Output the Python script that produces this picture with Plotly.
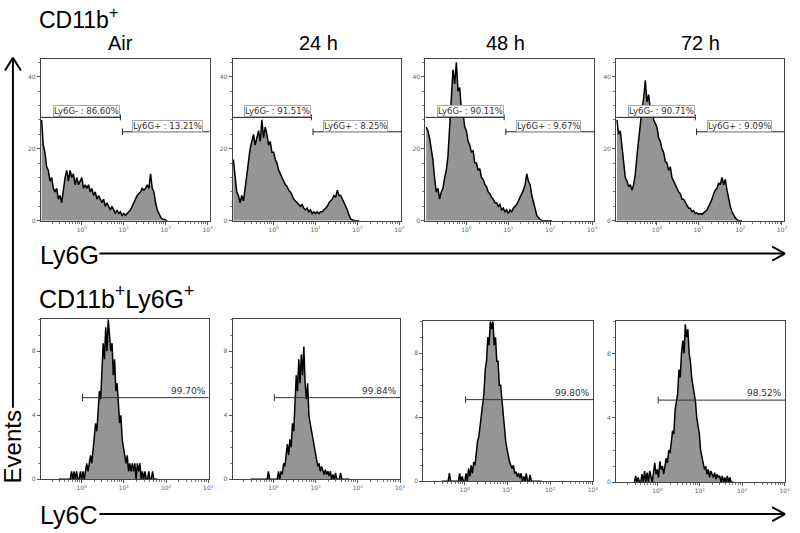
import plotly.graph_objects as go

# ---------------- data ----------------
CONDITIONS = ["Air", "24 h", "48 h", "72 h"]

# CD11b+ cells, Ly6G histograms: event counts sampled every 0.04 decade starting at 10^-0.96
TOP_LOG_START = -0.96
TOP_LOG_STEP = 0.04
LY6G_AIR = [28, 21, 19, 15, 14, 11, 12, 9, 8, 9,
            6, 7, 5, 9, 12, 14, 11, 14, 12, 13,
            10, 12, 10, 11, 12, 9, 10, 9, 10, 8,
            9, 7, 8, 6, 7, 6, 5, 6, 4, 5,
            4, 3, 4, 3, 2, 3, 2, 2.5, 1.5, 2,
            1.5, 2, 2.5, 3, 4, 5, 6, 7, 7.5, 8,
            9, 8.5, 9, 10, 9, 13, 9, 8, 5, 3,
            2, 1, 0.5, 0.3, 0, 0]
LY6G_24H = [17, 12, 8, 7, 5, 7, 5.5, 9, 13, 16,
            20, 22, 24, 21, 23, 25, 22, 28, 23, 26,
            24, 21, 22, 19, 19, 17, 16, 14, 13, 12,
            11, 10, 9.5, 8.5, 8, 7, 6, 5.5, 5, 4.5,
            4, 4.5, 3.5, 3, 3.5, 2.5, 3, 2, 2.5, 2,
            2.5, 2, 2.5, 2.5, 3, 3.5, 4, 5, 5.5, 6,
            7, 6.5, 8.5, 7, 7, 6, 5, 4, 3, 1.5,
            0.5, 0.2, 0, 0, 0, 0]
LY6G_48H = [26, 25, 23, 20, 17, 12, 8, 9, 6, 8,
            9, 12, 14, 18, 26, 33, 42, 38, 44, 36,
            37, 31, 30, 26, 25, 22, 21, 19, 19.5, 16,
            16, 14, 14.5, 12, 11.5, 10, 9.5, 8, 7.5, 6.5,
            6, 5, 5, 4, 4.5, 3, 3.5, 2.5, 3, 2,
            3, 2.5, 3.5, 4, 4.5, 5.5, 6.5, 7.5, 8.5, 10,
            13, 11, 10, 7, 5, 3.5, 1.5, 0.8, 0.3, 0,
            0, 0, 0, 0, 0, 0]
LY6G_72H = [28, 24, 25, 20, 16, 12, 11, 9.5, 10, 8.5,
            10, 13, 18, 23, 28, 31, 34, 39, 33, 35,
            31, 32, 28, 27, 26, 23, 22, 20, 19, 16.5,
            16, 14, 15, 12, 11, 10, 9, 8, 7.5, 6,
            6, 5, 4.5, 3.5, 3.5, 2.5, 2.8, 2, 2.2, 1.8,
            2, 1.8, 2.2, 2.5, 3, 4, 5, 6, 7.5, 8.5,
            9, 10.5, 10, 12, 10, 11.5, 8.5, 6, 4, 2.5,
            1.5, 0.8, 0.3, 0, 0, 0]
LY6G_NEG_PCT = ["86.60%", "91.51%", "90.11%", "90.71%"]
LY6G_POS_PCT = ["13.21%", "8.25%", "9.67%", "9.09%"]
LY6G_NEG_GATE_END = [0.92, 0.90, 0.90, 0.92]     # log10
LY6G_POS_GATE_START = [0.97, 0.94, 0.94, 0.95]   # log10
LY6G_NEG_GATE_Y = 28.7
LY6G_POS_GATE_Y = 24.7

# CD11b+Ly6G+ cells, Ly6C histograms: sampled every 0.03 decade starting at 10^-0.54
BOT_LOG_START = -0.54
BOT_LOG_STEP = 0.03
LY6C_AIR = [0, 0, 0, 0, 0, 0, 0, 0,
            0, 0, 0.5, 0, 0.5, 0, 0.5, 0, 0, 0.5,
            0, 0.5, 0, 0.5, 1, 0.5, 1, 1.5, 1, 2,
            2.5, 3.5, 3, 4.5, 5.5, 5, 7, 8.5, 7.5, 9.5,
            8, 10, 9, 8, 8.5, 6.5, 7.5, 5.5, 6, 4.5,
            3.5, 4, 2.5, 2, 1.5, 1, 1.5, 0.5, 1, 0.5,
            1, 0.5, 1, 0, 1, 0.5, 1, 0, 0.5, 0,
            0.5, 0, 0, 0.5, 0, 0, 0.5, 0, 0, 0, 0]
LY6C_24H = [0, 0, 0, 0, 0, 0,
            0, 0, 0, 0, 0, 0, 0, 0,
            0.5, 0, 0, 0, 0, 0, 0, 0, 0.5, 0,
            0.5, 0.3, 1, 0.8, 1.5, 2.2, 1.5, 2.5, 2, 3.5,
            3, 5, 6.5, 5.5, 7.5, 6, 7.8, 6.5, 8.3, 6,
            5, 6, 4, 3.5, 3, 2.5, 2, 1.5, 1.2, 0.8,
            1, 0.5, 0.8, 0.5, 0.3, 0.6, 0.3, 0.5, 0.2, 0.5,
            0, 0.3, 0, 0.4, 0, 0, 0, 0.4, 0, 0,
            0, 0, 0, 0, 0]
LY6C_48H = [0, 0, 0, 0, 0, 0, 0.5, 0,
            0, 0, 0, 0, 0, 0, 0.5, 0, 0.3, 0,
            0, 0.5, 0, 0.8, 0.3, 1, 0.5, 1.2, 1, 2,
            2.5, 2.8, 3.5, 4, 5, 5.5, 7, 7.5, 9, 8.5,
            10, 9.5, 10, 8.5, 9, 7.5, 7.5, 6, 6, 5,
            4, 3.5, 2.5, 2, 1.5, 1.2, 1, 0.8, 1, 0.5,
            0.6, 0.3, 0.5, 0.2, 0.5, 0, 0.3, 0, 0.5, 0,
            0, 0.4, 0, 0, 0, 0, 0, 0, 0, 0, 0]
LY6C_72H = [0, 0.4, 0, 0.3, 0, 0, 0.5, 0, 0.7, 0,
            0.6, 0, 0.7, 0.3, 0, 0.6, 1.2, 0.5, 0.8, 0.3,
            1.3, 0.8, 1, 0.5, 1.2, 1.5, 1.2, 2, 1.8, 2.5,
            3.2, 3, 4.5, 5, 5.5, 7, 6.5, 8, 8.8, 8,
            9.8, 9, 9.5, 8, 7.5, 6.5, 6, 5.5, 5, 4,
            3.5, 3, 2, 1.5, 1.2, 0.8, 1, 0.5, 0.8, 0.3,
            0.7, 0.5, 0.3, 0.6, 0.2, 0.5, 0.3, 0.4, 0, 0.4,
            0, 0.3, 0, 0.4, 0, 0.3, 0, 0, 0]
LY6C_POS_PCT = ["99.70%", "99.84%", "99.80%", "98.52%"]
LY6C_GATE_START = 0.02   # log10
LY6C_GATE_Y = 5.1

TOP_Y_TICKS = [0, 20, 40]
BOT_Y_TICKS = [0, 4, 8]
X_TICK_VALS = [1, 10, 100, 1000]
X_TICK_TEXT = ["10<sup>0</sup>", "10<sup>1</sup>", "10<sup>2</sup>", "10<sup>3</sup>"]

# ---------------- layout geometry (pixels) ----------------
W, H = 800, 533
TOP_X = [(41, 211), (234, 404), (428, 598), (620, 789)]
TOP_Y = [(59, 222)] * 4
BOT_X = [(41, 210), (234, 403), (426, 597), (620, 790)]
BOT_Y = [(321, 482), (321, 482), (323, 484), (323, 485)]
TITLE_CX = [121, 321, 509, 705]
TOP_XRANGE = [-0.98, 3.05]
BOT_XRANGE = [-0.97, 3.01]


def fx(px):
    return px / W


def fy(py):
    return 1 - py / H


BIG = "Liberation Sans, Arial, sans-serif"
NARROW = "Liberation Sans Narrow, Arial Narrow, Liberation Sans, sans-serif"
SMALL = "DejaVu Sans, Verdana, sans-serif"
FILL = "#959595"

minor_x = [m * 10 ** k for k in range(-1, 3) for m in range(2, 10)]

fig = go.Figure()
shapes = []
annotations = []

top_sets = [LY6G_AIR, LY6G_24H, LY6G_48H, LY6G_72H]
bot_sets = [LY6C_AIR, LY6C_24H, LY6C_48H, LY6C_72H]

for k in range(8):
    n = k + 1
    top = k < 4
    j = k % 4
    vals = top_sets[j] if top else bot_sets[j]
    start = TOP_LOG_START if top else BOT_LOG_START
    step = TOP_LOG_STEP if top else BOT_LOG_STEP
    xs = [10 ** (start + step * i) for i in range(len(vals))]
    xa = "x" if n == 1 else f"x{n}"
    ya = "y" if n == 1 else f"y{n}"
    fig.add_trace(go.Scatter(
        x=xs, y=vals, mode="lines", fill="tozeroy", fillcolor=FILL,
        line=dict(color="black", width=1.5), xaxis=xa, yaxis=ya,
        hoverinfo="skip", showlegend=False))

    xd = TOP_X[j] if top else BOT_X[j]
    yd = TOP_Y[j] if top else BOT_Y[j]
    xkey = "xaxis" if n == 1 else f"xaxis{n}"
    ykey = "yaxis" if n == 1 else f"yaxis{n}"
    xrange_ = TOP_XRANGE if top else BOT_XRANGE
    fig.layout[xkey] = dict(
        domain=[fx(xd[0]), fx(xd[1])], anchor=ya, type="log", range=xrange_,
        tickmode="array", tickvals=X_TICK_VALS, ticktext=X_TICK_TEXT,
        ticks="outside", ticklen=3, tickwidth=1, tickcolor="#555",
        minor=dict(tickmode="array", tickvals=minor_x, ticks="outside",
                   ticklen=2, tickcolor="#777"),
        tickfont=dict(family=SMALL, size=6, color="#666"),
        showline=True, linecolor="#444", linewidth=1, mirror=True,
        showgrid=False, zeroline=False, fixedrange=True)
    fig.layout[ykey] = dict(
        domain=[fy(yd[1]), fy(yd[0])], anchor=xa,
        range=[0, 45] if top else [0, 10],
        tickmode="array", tickvals=TOP_Y_TICKS if top else BOT_Y_TICKS,
        ticks="outside", ticklen=3, tickwidth=1, tickcolor="#555",
        minor=dict(dtick=4 if top else 1, ticks="outside", ticklen=2, tickcolor="#777"),
        tickfont=dict(family=SMALL, size=6, color="#666"),
        showline=True, linecolor="#444", linewidth=1, mirror=True,
        showgrid=False, zeroline=False, fixedrange=True)

    if top:
        lo = 10 ** xrange_[0]
        ge = LY6G_NEG_GATE_END[j]
        gs = LY6G_POS_GATE_START[j]
        hi = 10 ** xrange_[1]
        ny, py_ = LY6G_NEG_GATE_Y, LY6G_POS_GATE_Y
        shapes += [
            dict(type="line", xref=xa, yref=ya, x0=lo, x1=10 ** ge, y0=ny, y1=ny,
                 line=dict(color="#222", width=1)),
            dict(type="line", xref=xa, yref=ya, x0=10 ** ge, x1=10 ** ge,
                 y0=ny - 0.8, y1=ny + 0.8, line=dict(color="#222", width=1)),
            dict(type="line", xref=xa, yref=ya, x0=10 ** gs, x1=hi, y0=py_, y1=py_,
                 line=dict(color="#222", width=1)),
            dict(type="line", xref=xa, yref=ya, x0=10 ** gs, x1=10 ** gs,
                 y0=py_ - 0.9, y1=py_ + 0.9, line=dict(color="#222", width=1)),
        ]
        annotations += [
            dict(x=ge, y=ny, xref=xa, yref=ya, xanchor="right", yanchor="bottom",
                 text=f"Ly6G- : {LY6G_NEG_PCT[j]}", showarrow=False,
                 font=dict(family=SMALL, size=8.5, color="#333"),
                 bgcolor="white", bordercolor="#aaa", borderwidth=1, borderpad=0),
            dict(x=gs, y=py_, xref=xa, yref=ya, xanchor="left", yanchor="bottom",
                 xshift=10, text=f"Ly6G+ : {LY6G_POS_PCT[j]}", showarrow=False,
                 font=dict(family=SMALL, size=8.5, color="#333"),
                 bgcolor="white", bordercolor="#aaa", borderwidth=1, borderpad=0),
            dict(x=fx(TITLE_CX[j]), y=fy(43), xref="paper", yref="paper",
                 xanchor="center", yanchor="middle", text=CONDITIONS[j], showarrow=False,
                 font=dict(family=BIG, size=20, color="black")),
        ]
    else:
        gy = LY6C_GATE_Y
        hi = 10 ** xrange_[1]
        g0 = 10 ** LY6C_GATE_START
        shapes += [
            dict(type="line", xref=xa, yref=ya, x0=g0, x1=hi, y0=gy, y1=gy,
                 line=dict(color="#333", width=1)),
            dict(type="line", xref=xa, yref=ya, x0=g0, x1=g0,
                 y0=gy - 0.22, y1=gy + 0.22, line=dict(color="#333", width=1)),
        ]
        annotations.append(
            dict(x=xrange_[1], y=gy, xref=xa, yref=ya, xanchor="right", yanchor="bottom",
                 xshift=-1, text=LY6C_POS_PCT[j], showarrow=False,
                 font=dict(family=SMALL, size=9, color="#333")))

# big labels
annotations += [
    dict(x=fx(37), y=fy(18), xref="paper", yref="paper", xanchor="left", yanchor="middle",
         text="CD11b<sup>+</sup>", showarrow=False, font=dict(family=NARROW, size=23, color="black")),
    dict(x=fx(37), y=fy(299), xref="paper", yref="paper", xanchor="left", yanchor="middle",
         text="CD11b<sup>+</sup>Ly6G<sup>+</sup>", showarrow=False,
         font=dict(family=BIG, size=25, color="black")),
    dict(x=fx(38), y=fy(256), xref="paper", yref="paper", xanchor="left", yanchor="middle",
         text="Ly6G", showarrow=False, font=dict(family=BIG, size=25, color="black")),
    dict(x=fx(38), y=fy(518), xref="paper", yref="paper", xanchor="left", yanchor="middle",
         text="Ly6C", showarrow=False, font=dict(family=BIG, size=25, color="black")),
    dict(x=fx(13), y=fy(449), xref="paper", yref="paper", xanchor="center", yanchor="middle",
         text="Events", textangle=-90, showarrow=False,
         font=dict(family=BIG, size=24, color="black")),
]


def pline(x0, y0, x1, y1, w=2):
    return dict(type="line", xref="paper", yref="paper", x0=fx(x0), y0=fy(y0),
                x1=fx(x1), y1=fy(y1), line=dict(color="black", width=w))


shapes += [
    pline(100, 255, 789, 255),
    pline(777, 248, 790, 255), pline(777, 262, 790, 255),
    pline(100, 517, 789, 517),
    pline(777, 510, 790, 517), pline(777, 524, 790, 517),
    pline(13, 410, 13, 58),
    pline(5, 71, 13, 58), pline(21, 71, 13, 58),
]

fig.update_layout(
    width=W, height=H, margin=dict(l=0, r=0, t=0, b=0),
    paper_bgcolor="white", plot_bgcolor="white", showlegend=False,
    shapes=shapes, annotations=annotations)

fig.write_html("out.html", config={"displayModeBar": False},
               post_script="document.body.style.margin='0';document.body.style.overflow='hidden';")
